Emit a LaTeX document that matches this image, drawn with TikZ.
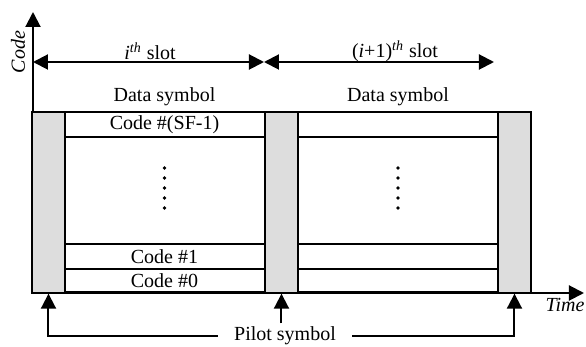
\documentclass[tikz,border=0pt]{standalone}
\usepackage{fontspec}
\setmainfont{Liberation Serif}
\usetikzlibrary{arrows.meta}

\tikzstyle{pilot}=[rectangle,
                   line width=0.7pt,
                   minimum width=16.5pt,
                   minimum height=90.5pt,
                   inner sep=0pt,
                   draw=black,
                   fill=gray!27]
\tikzstyle{coderow}=[rectangle,
                     line width=0.6pt,
                     minimum width=100.5pt,
                     inner sep=0pt,
                     draw=black,
                     fill=white]
\tikzstyle{label}=[rectangle,
                   inner sep=0pt,
                   font=\fontsize{10pt}{12pt}\selectfont]
\tikzstyle{axis}=[line width=1pt,
                  -{Triangle[length=7.5pt,width=7.5pt]}]
\tikzstyle{slot}=[line width=1pt,
                  {Triangle[length=7.5pt,width=7.5pt]}-{Triangle[length=7.5pt,width=7.5pt]}]

\begin{document}
\begin{tikzpicture}[x=0.5pt,y=-0.5pt,
    font=\fontsize{10pt}{12pt}\selectfont]
  % picture size in pixels of the reference
  \useasboundingbox (0,0) rectangle (586,347);

  % Axes
  \coordinate (O) at (33,293);
  \coordinate (ytip) at (33,12);
  \coordinate (xtip) at (584,293);
  \draw[axis] (O) -- (ytip);
  \draw[axis] (O) -- (xtip);
  \node (code) [label,rotate=90] at (18,52) {\textit{Code}};
  \node (time) [label] at (565,305) {\textit{Time}};

  % Code rows of the two data symbols
  \node (SF_0)   [coderow,minimum height=12.5pt] at (164.5,124.5) {Code \#(SF-1)};
  \node (Code1_0)[coderow,minimum height=12.5pt] at (164.5,256.5) {Code \#1};
  \node (Code0_0)[coderow,minimum height=11.5pt] at (164.5,280.5) {Code \#0};
  \node (SF_1)   [coderow,minimum height=12.5pt] at (398,124.5) {};
  \node (Code1_1)[coderow,minimum height=12.5pt] at (398,256.5) {};
  \node (Code0_1)[coderow,minimum height=11.5pt] at (398,280.5) {};

  % Pilot symbols
  \node (P_0) [pilot] at (48.5,202.5) {};
  \node (P_1) [pilot] at (281.5,202.5) {};
  \node (P_2) [pilot] at (514.5,202.5) {};
  \draw[line width=0.7pt] (P_0.south east) -- (P_1.south west)
                          (P_1.south east) -- (P_2.south west);

  % Dots between the rows
  \foreach \k in {0,...,4} {
    \fill (164.5,168+10*\k) circle (1.9);
    \fill (398,168+10*\k) circle (1.9);
  }

  % Data symbol and slot labels
  \node (data_0) [label] at (164.5,97) {Data symbol};
  \node (data_1) [label] at (398,97) {Data symbol};
  \coordinate (S_0) at (33,62);
  \coordinate (S_1) at (264,62);
  \coordinate (S_2) at (494,62);
  \draw[slot] (S_0) -- (S_1);
  \draw[slot] (S_1) -- (S_2);
  \node (slot_0) [label] at (150,51) {\textit{i}\textsuperscript{\textit{th}} slot};
  \node (slot_1) [label] at (395,51) {(\textit{i}+1)\textsuperscript{\textit{th}} slot};

  % Pilot symbol arrows
  \node (pilot) [label,inner xsep=8pt,inner ysep=1.5pt] at (285,336) {Pilot symbol};
  \draw[axis] (pilot.west) -| (P_0.south);
  \draw[axis] (pilot.east) -| (P_2.south);
  \draw[axis] (pilot.north -| P_1.south) -- (P_1.south);
\end{tikzpicture}
\end{document}
